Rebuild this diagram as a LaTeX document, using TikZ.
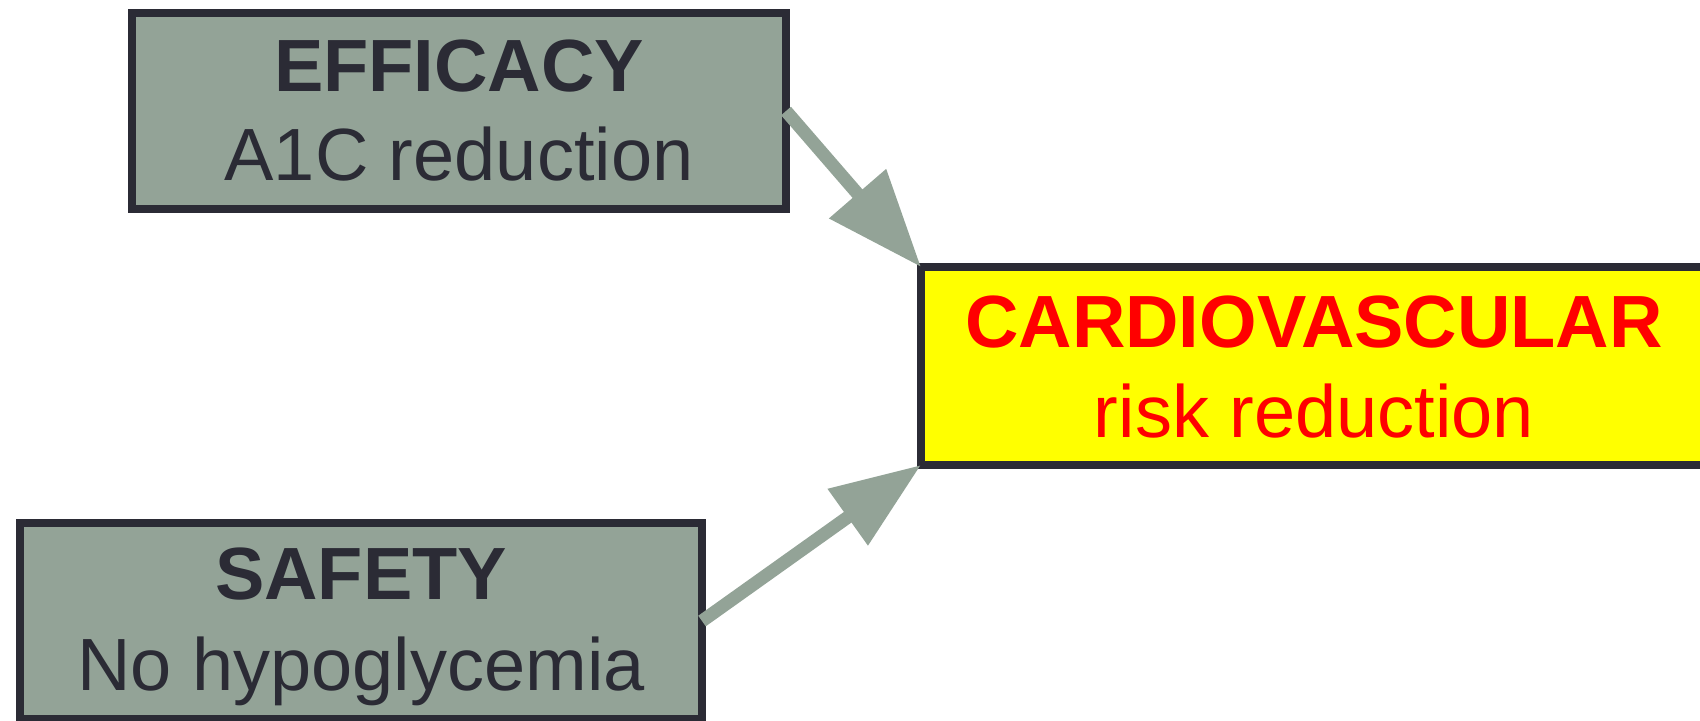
\documentclass[tikz,border=0pt]{standalone}
\usepackage{fontspec}
\setmainfont{Liberation Sans}
\usetikzlibrary{arrows.meta}
\definecolor{boxgray}{HTML}{93A397}
\definecolor{boxline}{HTML}{2B2B35}
\definecolor{txtdark}{HTML}{2B2B35}
\definecolor{cvyellow}{HTML}{FFFF00}
\definecolor{cvred}{HTML}{FF0000}
\begin{document}
\begin{tikzpicture}[x=0.5pt,y=-0.5pt,
  box/.style={draw=boxline,line width=4pt,rectangle,inner sep=0pt,outer sep=0pt,minimum height=98pt},
  graybox/.style={box,fill=boxgray},
  cvbox/.style={box,fill=cvyellow},
  ttl/.style={anchor=base,inner sep=0pt,font=\fontsize{37pt}{44pt}\selectfont\bfseries},
  sub/.style={anchor=base,inner sep=0pt,font=\fontsize{37pt}{44pt}\selectfont},
  conn/.style={draw=boxgray,line width=6.5pt}
]
\useasboundingbox (0,0) rectangle (1700,720);
% boxes
\node[graybox,minimum width=327pt] (eff) at (459,111) {};
\node[cvbox,minimum width=393pt,minimum height=99pt] (cv) at (1314,366) {};
\node[graybox,minimum width=341pt] (saf) at (361,621) {};
% texts
\node[ttl,text=txtdark] (effT) at (459,91) {EFFICACY};
\node[sub,text=txtdark] (effS) at (459,180) {A1C reduction};
\node[ttl,text=cvred] (cvT) at (1314,347) {CARDIOVASCULAR};
\node[sub,text=cvred] (cvS) at (1314,437) {risk reduction};
\node[ttl,text=txtdark] (safT) at (361,599) {SAFETY};
\node[sub,text=txtdark] (safS) at (361,690) {No hypoglycemia};
% connectors
\draw[conn,-{Triangle[length=48.5pt,width=36pt]}] (eff.east) -- (cv.north west);
\draw[conn,-{Triangle[length=45pt,width=33pt]}] (saf.east) -- (cv.south west);
\end{tikzpicture}
\end{document}
